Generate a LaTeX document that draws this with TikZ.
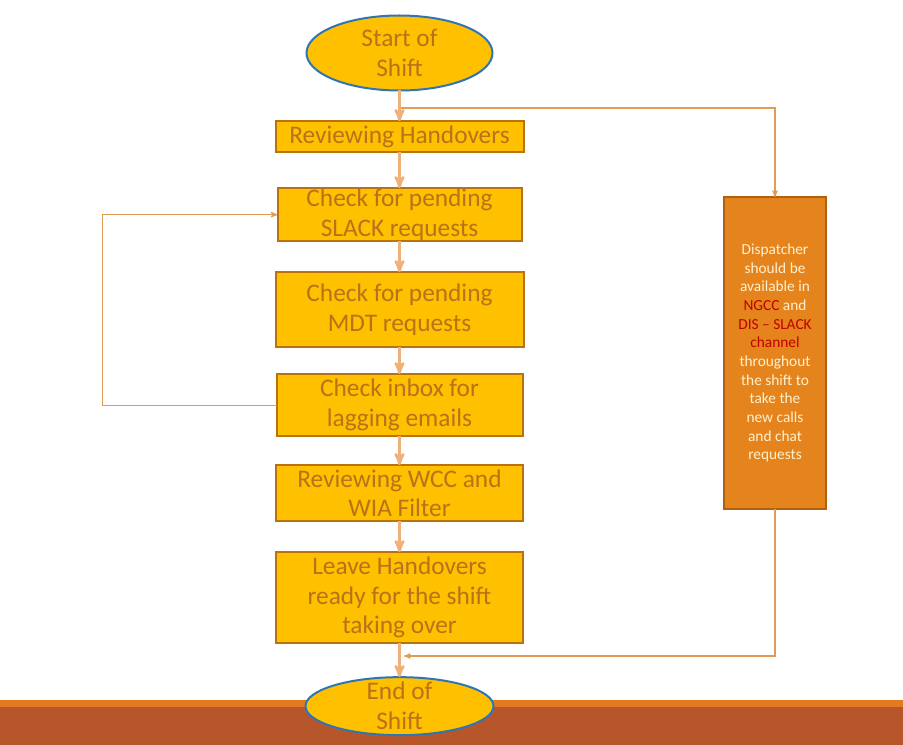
\documentclass[tikz,border=0pt]{standalone}
\usepackage{fontspec}
\setmainfont{Carlito}
\usetikzlibrary{positioning,shapes.geometric,arrows}
\definecolor{boxfill}{HTML}{FFC000}
\definecolor{boxline}{HTML}{B8730F}
\definecolor{boxtext}{HTML}{B8721A}
\definecolor{flowline}{HTML}{F0B07A}
\definecolor{sideline}{HTML}{E39A52}
\definecolor{notefill}{HTML}{E5841C}
\definecolor{noteline}{HTML}{B0600F}
\definecolor{notetext}{HTML}{FFF0D0}
\definecolor{notered}{HTML}{C00000}
\definecolor{ovalline}{HTML}{2E75B6}
\definecolor{stripe}{HTML}{E27A1F}
\definecolor{band}{HTML}{B7552B}
\tikzstyle{task}=[rectangle, draw=boxline, line width=1.5pt, outer sep=0pt, fill=boxfill, text=boxtext, align=center, inner sep=0pt, font=\fontsize{19}{22.2}\selectfont]
\tikzstyle{terminal}=[ellipse, draw=ovalline, line width=1.5pt, outer sep=0pt, fill=boxfill, text=boxtext, align=center, inner sep=0pt, font=\fontsize{19}{22.5}\selectfont]
\tikzstyle{note}=[rectangle, draw=noteline, line width=1pt, outer sep=0pt, fill=notefill, text=notetext, align=center, minimum width=76.5pt, minimum height=234pt, font=\fontsize{11.5}{14}\selectfont]

\begin{document}
\begin{tikzpicture}[
        x=0.75pt, y=-0.75pt,
        node distance = 23pt,
        flow/.style={->, >=stealth', draw=flowline, line width=2pt},
        side/.style={->, >=stealth', draw=sideline, line width=0.8pt},
        centertext/.style={label={[text=boxtext, align=center, font=\fontsize{19}{22.5}\selectfont]center:#1}},
      ]
      \useasboundingbox (0,0) rectangle (903,745);
      % bottom band
      \fill[band] (0,707) rectangle (903,745);
      \fill[stripe] (0,700) rectangle (903,707);

      \node (Start) [terminal, minimum width=139.5pt, minimum height=56.25pt] at (399.5,53) {Start of\\Shift};
      \node (Review) [task, minimum width=186pt, minimum height=23.25pt, below=23pt of Start] {Reviewing Handovers};
      \node (Slack) [task, minimum width=183pt, minimum height=39.75pt, below=27pt of Review] {Check for pending\\SLACK requests};
      \node (Mdt) [task, minimum width=186pt, minimum height=56.25pt, below=23.25pt of Slack] {Check for pending\\MDT requests};
      \node (Inbox) [task, minimum width=184.5pt, minimum height=46.5pt, below=20.25pt of Mdt] {Check inbox for\\lagging emails};
      \node (Filter) [task, minimum width=185pt, minimum height=42pt, below=21.75pt of Inbox] {Reviewing WCC and\\WIA Filter};
      \node (Leave) [task, minimum width=185pt, minimum height=68.25pt, below=23.25pt of Filter] {Leave Handovers\\ready for the shift\\taking over};
      \node (End) [terminal, minimum width=141pt, minimum height=43.5pt, below=25.5pt of Leave, centertext={End of\\Shift}] {};

      \node (Dispatcher) [note] at (775,353)
            {
              Dispatcher\\should be\\available in\\
              \textcolor{notered}{NGCC} and\\
              \textcolor{notered}{DIS – SLACK}\\
              \textcolor{notered}{channel}\\
              throughout\\the shift to\\take the\\new calls\\and chat\\requests
            };

      \coordinate (Split) at (401,108);
      \coordinate (Merge) at (404,656);

      \draw [flow] (Start) -- (Review);
      \draw [flow] (Review) -- (Slack);
      \draw [flow] (Slack) -- (Mdt);
      \draw [flow] (Mdt) -- (Inbox);
      \draw [flow] (Inbox) -- (Filter);
      \draw [flow] (Filter) -- (Leave);
      \draw [flow] (Leave) -- (End);
      \draw [side] (Split) -| (Dispatcher.north);
      \draw [side] (Dispatcher.south) |- (Merge);
      \draw [side] (Inbox.west) -- ++(-174,0) |- (Slack.west);
    \end{tikzpicture}
\end{document}
